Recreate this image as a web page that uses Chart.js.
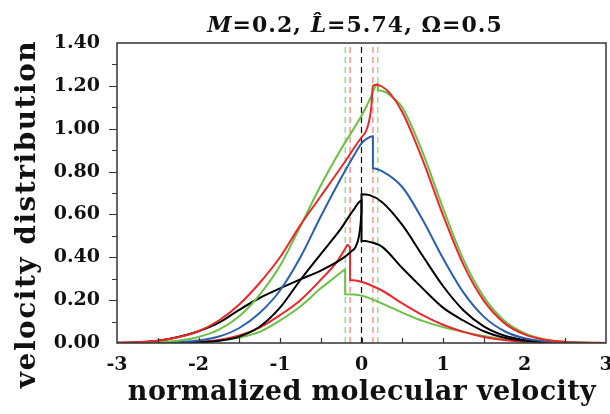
<!DOCTYPE html>
<html>
<head>
<meta charset="utf-8">
<script src="https://cdn.jsdelivr.net/npm/chart.js@4"></script>
<style>
  body { margin: 0; background: #fff; }
  canvas { display: block; }
</style>
</head>
<body>
<canvas id="velChart" width="610" height="414"></canvas>
<script>
// --- curve values (x = normalized velocity) ---
const greenUpX = [-3, -2.75, -2.5, -2.25, -2, -1.75, -1.5, -1.25, -1, -0.75, -0.5, -0.25, 0, 0.1, 0.2, 0.2, 0.3, 0.4, 0.5, 0.75, 1, 1.25, 1.5, 1.75, 2, 2.25, 2.5, 2.75, 3];
const greenUpY = [0, 0.001, 0.004, 0.011, 0.028, 0.062, 0.125, 0.225, 0.36, 0.545, 0.735, 0.905, 1.06, 1.135, 1.21, 1.18, 1.17, 1.14, 1.10, 0.89, 0.63, 0.39, 0.215, 0.105, 0.046, 0.017, 0.006, 0.0015, 0];

const redUpX = [-3, -2.75, -2.5, -2.25, -2, -1.75, -1.5, -1.25, -1, -0.75, -0.5, -0.25, 0, 0.05, 0.09, 0.12, 0.14, 0.18, 0.25, 0.35, 0.5, 0.75, 1, 1.25, 1.5, 1.75, 2, 2.25, 2.5, 2.75, 3];
const redUpY = [0.001, 0.004, 0.011, 0.027, 0.055, 0.105, 0.18, 0.28, 0.40, 0.55, 0.685, 0.82, 0.96, 0.985, 1.03, 1.10, 1.2, 1.205, 1.197, 1.165, 1.078, 0.855, 0.597, 0.366, 0.198, 0.094, 0.04, 0.015, 0.005, 0.0014, 0.0004];

const blueX = [-3, -2.5, -2.25, -2, -1.75, -1.5, -1.25, -1, -0.75, -0.5, -0.25, -0.1, 0, 0.07, 0.14, 0.14, 0.25, 0.5, 0.75, 1, 1.25, 1.5, 1.75, 2, 2.25, 2.5, 2.75, 3];
const blueY = [0, 0.002, 0.005, 0.012, 0.03, 0.07, 0.14, 0.245, 0.40, 0.59, 0.77, 0.87, 0.932, 0.955, 0.965, 0.815, 0.802, 0.728, 0.575, 0.395, 0.236, 0.123, 0.056, 0.022, 0.0075, 0.0022, 0.0006, 0];

const blackAX = [-3, -2.75, -2.5, -2.25, -2, -1.75, -1.5, -1.25, -1, -0.75, -0.5, -0.25, -0.13, -0.07, -0.03, -0.01, 0, 0, 0.1, 0.25, 0.5, 0.75, 1, 1.25, 1.5, 1.75, 2, 2.25, 2.5, 2.75, 3];
const blackAY = [0.001, 0.003, 0.01, 0.028, 0.055, 0.095, 0.155, 0.21, 0.255, 0.297, 0.338, 0.39, 0.426, 0.45, 0.5, 0.56, 0.61, 0.694, 0.69, 0.658, 0.551, 0.407, 0.266, 0.153, 0.078, 0.035, 0.014, 0.005, 0.0015, 0.0004, 0];

const blackBX = [-3, -2.5, -2.25, -2, -1.75, -1.5, -1.25, -1, -0.75, -0.5, -0.25, -0.1, 0, 0, 0.1, 0.25, 0.5, 0.75, 1, 1.25, 1.5, 1.75, 2, 2.25, 2.5, 3];
const blackBY = [0, 0, 0.001, 0.003, 0.01, 0.03, 0.076, 0.165, 0.294, 0.415, 0.535, 0.62, 0.665, 0.477, 0.472, 0.45, 0.35, 0.255, 0.165, 0.105, 0.055, 0.025, 0.01, 0.004, 0.001, 0];

const redLowX = [-3, -2.5, -2.25, -2, -1.75, -1.5, -1.25, -1, -0.75, -0.5, -0.3, -0.2, -0.17, -0.14, -0.14, 0, 0.25, 0.5, 0.75, 1, 1.25, 1.5, 1.75, 2, 2.25, 2.5, 3];
const redLowY = [0, 0.001, 0.002, 0.005, 0.014, 0.035, 0.072, 0.13, 0.20, 0.295, 0.38, 0.44, 0.458, 0.447, 0.294, 0.286, 0.245, 0.185, 0.13, 0.085, 0.052, 0.028, 0.014, 0.006, 0.0025, 0.001, 0];

const greenLowX = [-3, -2.5, -2.25, -2, -1.75, -1.5, -1.25, -1, -0.75, -0.5, -0.35, -0.25, -0.2, -0.2, 0, 0.25, 0.5, 0.75, 1, 1.25, 1.5, 1.75, 2, 2.25, 2.5, 3];
const greenLowY = [0, 0.001, 0.002, 0.004, 0.01, 0.025, 0.052, 0.105, 0.17, 0.255, 0.30, 0.33, 0.342, 0.227, 0.221, 0.185, 0.142, 0.103, 0.074, 0.052, 0.033, 0.018, 0.009, 0.004, 0.0015, 0];

// dashed vertical markers
const markerX = [-0.2, -0.14, 0, 0.14, 0.2];
const markerColors = ["#8fd07a", "#f07a7a", "#000000", "#f07a7a", "#8fd07a"];

// ticks
const xTickValues = [-3, -2, -1, 0, 1, 2, 3];
const xMinorTicks = [-2.5, -2, -1.5, -1, -0.5, 0, 0.5, 1, 1.5, 2, 2.5];
const yTickValues = [0, 0.2, 0.4, 0.6, 0.8, 1.0, 1.2, 1.4];
const yMinorTicks = [0.1, 0.2, 0.3, 0.4, 0.5, 0.6, 0.7, 0.8, 0.9, 1.0, 1.1, 1.2, 1.3];

const GREEN = "#6abf45";
const RED = "#e8282b";
const BLUE = "#2a5fb0";
const BLACK = "#000000";
const SERIF = "'DejaVu Serif', 'Liberation Serif', serif";

const toPoints = (xs, ys) => xs.map((x, i) => ({ x, y: ys[i] }));

function curve(xs, ys, color) {
  return {
    data: toPoints(xs, ys),
    borderColor: color,
    borderWidth: 2,
    pointRadius: 0,
    fill: false,
    cubicInterpolationMode: "monotone"
  };
}

const datasets = [
  curve(redUpX, redUpY, RED),
  curve(greenUpX, greenUpY, GREEN),
  curve(blueX, blueY, BLUE),
  curve(blackAX, blackAY, BLACK),
  curve(blackBX, blackBY, BLACK),
  curve(redLowX, redLowY, RED),
  curve(greenLowX, greenLowY, GREEN)
];

markerX.forEach((mx, i) => {
  datasets.push({
    data: [{ x: mx, y: 0 }, { x: mx, y: 1.4 }],
    borderColor: markerColors[i],
    borderWidth: 1.2,
    borderDash: [6, 4],
    pointRadius: 0,
    fill: false
  });
});

// frame, inward/outward ticks and the text titles
const decor = {
  id: "decor",
  afterDraw(chart) {
    const { ctx, chartArea: a, scales: { x, y } } = chart;
    ctx.save();
    ctx.strokeStyle = "#333";
    ctx.lineWidth = 1.2;
    ctx.beginPath();
    xMinorTicks.forEach(v => {
      const px = Math.round(x.getPixelForValue(v)) + 0.5;
      ctx.moveTo(px, a.bottom);
      ctx.lineTo(px, a.bottom - 5);
    });
    yMinorTicks.forEach(v => {
      const py = Math.round(y.getPixelForValue(v)) + 0.5;
      const len = yTickValues.includes(v) ? 8 : 5;
      ctx.moveTo(a.left, py);
      ctx.lineTo(a.left - len, py);
    });
    ctx.stroke();

    ctx.lineWidth = 1.5;
    ctx.strokeRect(a.left, a.top, a.right - a.left, a.bottom - a.top);

    // title with italic symbols
    ctx.fillStyle = "#111";
    ctx.textBaseline = "alphabetic";
    ctx.letterSpacing = "1px";
    const parts = [
      { t: "M", f: "italic bold 22px " + SERIF },
      { t: "=0.2, ", f: "bold 22px " + SERIF },
      { t: "L\u0302", f: "italic bold 22px " + SERIF },
      { t: "=5.74, \u03A9=0.5", f: "bold 22px " + SERIF }
    ];
    let total = 0;
    parts.forEach(p => { ctx.font = p.f; p.w = ctx.measureText(p.t).width; total += p.w; });
    let tx = 355 - total / 2;
    parts.forEach(p => { ctx.font = p.f; ctx.fillText(p.t, tx, 32); tx += p.w; });

    // axis titles
    ctx.font = "bold 27px " + SERIF;
    ctx.letterSpacing = "0.4px";
    ctx.textAlign = "center";
    ctx.fillText("normalized molecular velocity", 362, 400);
    ctx.font = "bold 28px " + SERIF;
    ctx.letterSpacing = "1.5px";
    ctx.translate(35, 214);
    ctx.rotate(-Math.PI / 2);
    ctx.fillText("velocity distribution", 0, 0);
    ctx.restore();
  }
};

new Chart(document.getElementById("velChart"), {
  type: "line",
  data: { datasets },
  plugins: [decor],
  options: {
    responsive: false,
    animation: false,
    layout: { padding: { top: 43, right: 4, left: 0, bottom: 0 } },
    plugins: {
      legend: { display: false },
      title: { display: false },
      tooltip: { enabled: false }
    },
    scales: {
      x: {
        type: "linear",
        min: -3,
        max: 3,
        afterFit: s => { s.height = 71; s.paddingLeft = 0; s.paddingRight = 0; },
        afterBuildTicks: s => { s.ticks = xTickValues.map(v => ({ value: v })); },
        ticks: {
          font: { family: SERIF, size: 19, weight: "bold" },
          color: "#111",
          padding: 11,
          maxRotation: 0,
          autoSkip: false,
          callback: v => String(v)
        },
        grid: { display: false, drawTicks: false },
        border: { display: false }
      },
      y: {
        type: "linear",
        min: 0,
        max: 1.4,
        afterFit: s => { s.width = 117; s.paddingTop = 0; s.paddingBottom = 0; },
        afterBuildTicks: s => { s.ticks = yTickValues.map(v => ({ value: v })); },
        ticks: {
          font: { family: SERIF, size: 19, weight: "bold" },
          color: "#111",
          padding: 17,
          callback: v => v.toFixed(2)
        },
        grid: { display: false, drawTicks: false },
        border: { display: false }
      }
    }
  }
});
</script>
</body>
</html>
